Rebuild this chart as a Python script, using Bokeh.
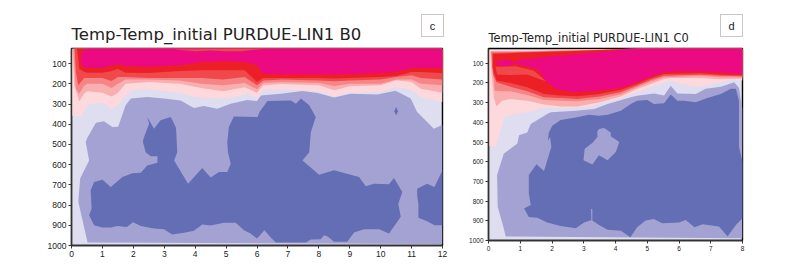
from bokeh.plotting import figure
from bokeh.layouts import row
from bokeh.models import Range1d, FixedTicker, Div
from bokeh.embed import file_html
from bokeh.resources import INLINE

TITLE_C = "Temp-Temp_initial  PURDUE-LIN1  B0"
TITLE_D = "Temp-Temp_initial  PURDUE-LIN1  C0"
P_TICKS = [100, 200, 300, 400, 500, 600, 700, 800, 900, 1000]
TOP = 25

LAVENDER, MID, DARK = "#DEDEF0", "#A4A2D2", "#646EB4"
PALE, SALMON1, SALMON2, SALMON3, RED, MAGENTA = "#FDD8DC", "#F9AEB0", "#F58587", "#F0494C", "#ED1F26", "#EC0A82"

# ---------- panel c: months, pressure (hPa)
c_mid_x = [.52, .22, .28, .57, .46, .5, .79, 1.05, 1.32, 1.51, 1.75, 1.92, 2.45, 2.99, 3.53, 3.96, 4.28, 4.71, 5.15, 5.68, 6.0, 6.13, 6.77, 7.47, 7.96, 8.49, 9.03, 9.89, 10.48, 10.97, 11.18, 11.72, 12, 12]
c_mid_p = [985, 784, 669, 579, 488, 471, 392, 385, 413, 412, 306, 273, 265, 273, 282, 319, 310, 323, 298, 280, 285, 257, 249, 235, 245, 268, 249, 253, 234, 273, 339, 422, 402, 992]
c_dark_x = [.57, .73, 1.0, 1.27, 1.49, 1.79, 1.99, 2.24, 2.67, 2.99, 3.26, 3.64, 3.96, 4.23, 4.5, 4.93, 5.31, 5.58, 5.79, 6.0, 6.24, 6.45, 6.61, 7.58, 7.74, 8.06, 8.17, 8.3, 8.49, 8.92, 9.14, 9.46, 9.95, 10.27, 10.65, 10.57, 10.7, 10.43, 10.27, 9.78, 9.52, 9.3, 8.49, 8.01, 7.47, 7.69, 7.74, 7.9, 7.69, 7.42, 7.26, 7.1, 6.34, 6.08, 6.02, 5.25, 5.09, 5.04, 5.06, 5.15, 5.04, 4.77, 4.5, 4.23, 3.77, 3.32, 3.42, 3.39, 3.37, 3.21, 2.88, 2.67, 2.45, 2.51, 2.33, 2.31, 2.4, 2.56, 2.78, 2.78, 2.45, 2.24, 1.97, 1.65, 1.27, 1.0, .73, .62, .65]
c_dark_p = [850, 900, 911, 911, 903, 908, 885, 903, 916, 920, 945, 937, 927, 896, 901, 887, 887, 924, 941, 965, 924, 962, 985, 985, 970, 969, 949, 957, 982, 982, 936, 920, 920, 941, 858, 793, 735, 666, 697, 694, 707, 661, 628, 650, 579, 538, 439, 364, 306, 273, 298, 282, 285, 339, 364, 361, 413, 488, 538, 595, 636, 636, 664, 617, 694, 579, 538, 439, 413, 364, 380, 422, 364, 397, 471, 488, 538, 558, 558, 591, 604, 640, 643, 661, 710, 675, 686, 727, 817]
c_lobe_x = [11.18, 11.5, 11.74, 12, 12, 11.74, 11.5, 11.22, 11.22, 11.18]
c_lobe_p = [719, 694, 710, 628, 900, 900, 880, 863, 793, 752]
c_spot_x = [10.5, 10.56, 10.5, 10.44]
c_spot_p = [314, 335, 356, 335]

c_band_x = [.5, 1, 1.3, 1.5, 1.75, 2.5, 3.5, 4.2, 4.9, 5.6, 6.0, 6.2, 6.8, 8, 8.5, 9, 10, 10.5, 11, 11.3, 12]
c_magenta = [120, 121, 112, 103, 112, 116, 108, 92, 88, 92, 108, 150, 154, 154, 154, 151, 146, 141, 121, 121, 121]
c_red = [145, 145, 136, 126, 145, 146, 136, 133, 133, 133, 191, 171, 171, 171, 173, 171, 166, 161, 141, 141, 148]
c_salmon3 = [171, 171, 186, 166, 166, 171, 171, 171, 178, 166, 207, 183, 179, 183, 187, 183, 178, 166, 158, 171, 178]
c_salmon2 = [199, 199, 220, 199, 178, 178, 183, 199, 207, 196, 227, 196, 191, 196, 211, 199, 199, 178, 178, 199, 207]
c_salmon1 = [237, 244, 262, 244, 199, 191, 199, 220, 237, 217, 244, 207, 201, 207, 232, 212, 207, 182, 191, 224, 244]
c_magenta_left = ([.55, .35, .3, .3, .37], [TOP, 38, 60, 100, 115])
c_red_left = ([.17, .22, .25, .4], [TOP, 75, 125, 140])
c_salmon3_left = ([.1, .14, .22, .41], [TOP, 141, 207, 171])
c_salmon2_left = ([.06, .14, .25, .4], [TOP, 224, 249, 210])
c_salmon1_left = ([.03, .09, .25, .41], [TOP, 207, 286, 249])
c_pale_x = [0, 0, .3, .5, .8, 1.1, 1.3, 1.5, 1.7, 2, 2.5, 3, 3.5, 4, 4.5, 5, 5.3, 5.7, 6, 6.2, 6.8, 8, 8.5, 9, 10, 10.5, 11, 11.3, 12, 12]
c_pale_p = [TOP, 356, 364, 306, 295, 298, 326, 306, 262, 232, 227, 237, 244, 265, 270, 273, 265, 248, 273, 232, 227, 237, 262, 244, 240, 215, 232, 265, 290, TOP]
c_sliver_x = [3.3, 4, 4.5, 5, 5.5, 6, 6.25]
c_sliver_p = [30, 38, 35, 38, 38, 30, TOP]

# ---------- panel d
d_mid_x = [.54, .48, .29, .27, .48, .91, .96, 1.22, 1.33, 1.85, 1.96, 2.75, 3.33, 3.75, 4.48, 4.68, 5.21, 5.53, 5.74, 5.95, 6.53, 6.84, 7.32, 7.74, 7.89, 7.95, 8, 8]
d_mid_p = [980, 938, 828, 668, 559, 508, 466, 451, 408, 358, 349, 341, 332, 307, 273, 265, 254, 264, 214, 253, 256, 230, 219, 197, 225, 290, 330, 988]
d_dark_x = [1.12, 1.27, 1.54, 1.85, 2.27, 2.75, 3.01, 3.25, 3.48, 3.75, 4.17, 4.47, 4.68, 4.95, 5.21, 5.47, 6, 6.21, 6.49, 6.74, 7.26, 7.53, 7.79, 8, 8, 7.89, 7.89, 7.79, 7.63, 7.32, 6.89, 6.53, 6.16, 5.95, 5.74, 5.53, 5.21, 5, 4.68, 4.48, 4.17, 3.75, 3.48, 3.17, 2.75, 2.27, 2.01, 1.9, 1.87, 1.94, 1.98, 1.75, 1.51, 1.27, 1.27, 1.33]
d_dark_p = [837, 881, 885, 909, 926, 938, 908, 896, 921, 946, 950, 983, 933, 899, 891, 913, 909, 896, 933, 918, 929, 980, 921, 887, 600, 525, 290, 230, 230, 256, 276, 298, 290, 290, 259, 303, 307, 286, 290, 307, 341, 361, 366, 361, 375, 388, 417, 451, 493, 475, 525, 647, 613, 668, 761, 820]
d_hole_x = [3.64, 3.85, 3.85, 4.12, 4.01, 3.75, 3.48, 3.27, 2.99, 3.03, 3.27, 3.43, 3.43, 3.48]
d_hole_p = [429, 451, 470, 500, 551, 593, 567, 614, 593, 534, 505, 475, 445, 434]
d_nick_x = [3.24, 3.23, 3.27, 3.27]
d_nick_p = [896, 840, 840, 896]

d_pale_x = [0, 0, .25, .38, .43, .48, .8, 1.22, 1.75, 2.59, 3.22, 3.75, 4.16, 4.68, 5.21, 5.74, 5.95, 6.53, 6.84, 7.32, 7.74, 8, 8, 4.8, 3, 1.5]
d_pale_p = [32, 520, 520, 441, 417, 375, 358, 349, 327, 327, 320, 290, 278, 247, 214, 188, 202, 219, 214, 197, 180, 188, TOP, TOP, 30, 32]
d_salmon1_x = [.06, .08, .17, .25, .43, .69, 1.22, 1.75, 2.27, 2.8, 3.5, 4.16, 4.68, 5.11, 5.53, 5.74, 6.68, 7.32, 8, 8, 4.8, 3, 1.5]
d_salmon1_p = [38, 120, 273, 320, 290, 281, 290, 310, 320, 320, 298, 269, 231, 205, 180, 175, 175, 181, 178, TOP, TOP, 31, 36]
d_salmon2_x = [.08, .12, .2, .43, .69, 1.22, 1.75, 2.27, 2.8, 3.5, 4.16, 4.68, 5.11, 5.53, 6, 6.68, 7.32, 8, 8, 4.8, 3, 1.5]
d_salmon2_p = [42, 120, 239, 242, 242, 261, 286, 290, 293, 281, 259, 222, 193, 171, 168, 164, 171, 171, TOP, TOP, 33, 39]
d_salmon3_x = [.1, .14, .25, .69, 1.22, 1.75, 2.27, 2.8, 3.5, 4.16, 4.68, 5.11, 5.53, 6, 6.68, 7.32, 8, 8, 4.8, 3, 1.5]
d_salmon3_p = [47, 154, 197, 219, 242, 273, 276, 281, 269, 247, 214, 185, 163, 161, 158, 164, 166, TOP, TOP, 35, 42]
d_red_x = [.15, .13, .25, .69, 1.22, 1.75, 2.27, 2.8, 3.5, 4.16, 4.68, 5.11, 5.53, 6, 6.68, 7.32, 8, 8, 4.8, 4, 3, 2, 1]
d_red_p = [53, 120, 188, 200, 222, 256, 264, 268, 256, 236, 205, 176, 154, 153, 151, 158, 161, TOP, TOP, 30, 36, 42, 46]
d_patch_x = [.22, .85, 1.43, 1.8, 1.64, 1.22, .69, .27]
d_patch_p = [118, 115, 138, 190, 182, 157, 160, 157]
d_magenta_x = [.85, .91, 1.75, 2.8, 3.85, 4.48, 8, 8, 7.32, 6.68, 6, 5.53, 5.11, 4.68, 4.16, 3.5, 2.7, 2.1, 1.8, 1.54]
d_magenta_p = [103, 83, 69, 53, 39, TOP, TOP, 154, 146, 142, 141, 146, 168, 197, 225, 239, 247, 231, 188, 129]
d_blob_x = [.22, .38, .69, .85, .69, .33]
d_blob_p = [98, 83, 83, 98, 112, 115]


def panel(width, height, left, right, top, bottom, xmax, xticks, label_size, title, title_size, title_pad):
    p = figure(width=width, height=height, x_range=Range1d(0, xmax), y_range=Range1d(1000, TOP),
               frame_width=width - left - right, frame_height=height - top - bottom,
               min_border_left=left, min_border_right=right, min_border_top=top, min_border_bottom=bottom,
               toolbar_location=None, output_backend="svg", title=title)
    p.title.text_font = "DejaVu Sans"
    p.title.text_font_size = title_size
    p.title.text_font_style = "normal"
    p.title.text_color = "#222222"
    p.title.align = "left"
    p.title.offset = 0
    p.title.standoff = title_pad
    p.grid.visible = False
    p.outline_line_color = "black"
    p.outline_line_width = 1.4
    p.background_fill_color = LAVENDER
    p.xaxis.ticker = FixedTicker(ticks=xticks)
    p.yaxis.ticker = FixedTicker(ticks=P_TICKS)
    for ax in (p.xaxis[0], p.yaxis[0]):
        ax.major_label_text_font = "Liberation Sans"
        ax.major_label_text_font_size = label_size
        ax.major_label_text_color = "#222222"
        ax.major_tick_line_color = "#333333"
        ax.major_tick_in = 0
        ax.major_tick_out = 3
        ax.minor_tick_line_color = None
        ax.axis_line_color = "#333333"
        ax.axis_line_width = 1.4
        ax.major_label_standoff = 2
    return p


def fill(p, xs, ys, color):
    p.patch(xs, ys, fill_color=color, line_color=None)


def corner(text, left, top):
    return Div(text=text, margin=0, styles={
        "position": "absolute", "left": f"{left}px", "top": f"{top}px", "width": "23px", "height": "23px",
        "border": "1px solid #C8C8C8", "background": "white", "text-align": "center", "line-height": "22px",
        "font-family": "Liberation Sans", "font-size": "11px", "color": "#222222", "z-index": "10"})


# panel c
pc = panel(460, 265, 71, 18, 47, 21, 12, list(range(13)), "8.5px", TITLE_C, "16.5px", 9)
fill(pc, c_mid_x, c_mid_p, MID)
fill(pc, c_dark_x, c_dark_p, DARK)
fill(pc, c_lobe_x, c_lobe_p, DARK)
fill(pc, c_spot_x, c_spot_p, DARK)
fill(pc, c_pale_x, c_pale_p, PALE)
for (lx, lp), vals, col in [(c_salmon1_left, c_salmon1, SALMON1), (c_salmon2_left, c_salmon2, SALMON2),
                            (c_salmon3_left, c_salmon3, SALMON3), (c_red_left, c_red, RED),
                            (c_magenta_left, c_magenta, MAGENTA)]:
    fill(pc, lx + c_band_x + [12], lp + vals + [TOP], col)
fill(pc, c_sliver_x, c_sliver_p, SALMON3)

# panel d
pd_ = panel(337, 265, 28, 55, 48, 25, 8, list(range(9)), "6.5px", TITLE_D, "11.4px", 7)
fill(pd_, d_mid_x, d_mid_p, MID)
fill(pd_, d_dark_x, d_dark_p, DARK)
fill(pd_, d_hole_x, d_hole_p, MID)
fill(pd_, d_nick_x, d_nick_p, MID)
fill(pd_, d_pale_x, d_pale_p, PALE)
fill(pd_, d_salmon1_x, d_salmon1_p, SALMON1)
fill(pd_, d_salmon2_x, d_salmon2_p, SALMON2)
fill(pd_, d_salmon3_x, d_salmon3_p, SALMON3)
fill(pd_, d_red_x, d_red_p, RED)
fill(pd_, d_patch_x, d_patch_p, SALMON3)
fill(pd_, d_magenta_x, d_magenta_p, MAGENTA)
fill(pd_, d_blob_x, d_blob_p, MAGENTA)

layout = row(pc, pd_, corner("c", 421, 14), corner("d", 720, 14), spacing=0)
open("out.html", "w").write(file_html(layout, INLINE))
